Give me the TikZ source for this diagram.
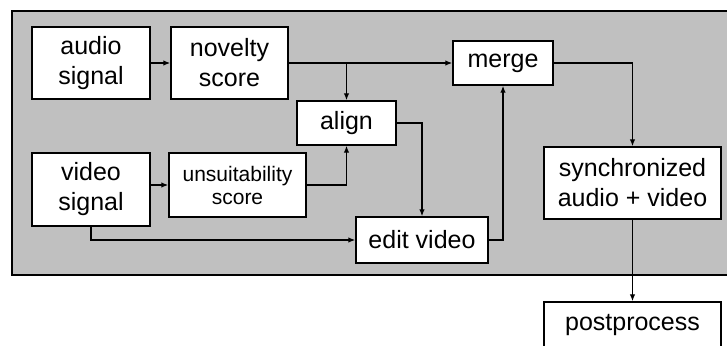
\documentclass[tikz,border=0pt]{standalone}
\usepackage{fontspec}
\setmainfont{Liberation Sans}
\usetikzlibrary{arrows.meta}
\definecolor{panelgray}{RGB}{192,192,192}
\tikzset{
  blk/.style={draw=black, line width=1.4pt, fill=white, inner sep=0pt, align=center,
    font=\fontsize{25}{30}\selectfont, text=black},
  conn/.style={draw=black, line width=1.3pt, -{Latex[length=7pt,width=5.5pt]}},
}
\begin{document}
\begin{tikzpicture}[x=1pt,y=-1pt]
\useasboundingbox (0,0) rectangle (727,345);
\draw[fill=panelgray, line width=1.3pt] (12,11) rectangle (740,275);
\node[blk, minimum width=118pt, minimum height=72pt] (audio) at (91,63) {audio\\signal};
\node[blk, minimum width=117pt, minimum height=72pt] (novelty) at (229.5,63) {novelty\\score};
\node[blk, minimum width=99pt, minimum height=44pt] (align) at (346.5,123) {align};
\node[blk, minimum width=100pt, minimum height=44pt] (merge) at (503,63) {merge};
\node[blk, minimum width=177pt, minimum height=72pt] (sync) at (632.5,183) {synchronized\\audio + video};
\node[blk, minimum width=118pt, minimum height=73pt] (video) at (91,189.5) {video\\signal};
\node[blk, minimum width=137pt, minimum height=64pt, font=\fontsize{21}{23}\selectfont] (unsuit) at (237.5,185) {unsuitability\\score};
\node[blk, minimum width=132pt, minimum height=46pt] (edit) at (422,240) {edit video};
\node[blk, minimum width=177pt, minimum height=46pt] (post) at (632.5,325) {postprocess};
\draw[conn] (audio.east) -- (novelty.west);
\draw[conn] (novelty.east) -- (merge.west);
\draw[conn] (novelty.east -| align.north) -- (align.north);
\draw[conn] (video.east |- unsuit.west) -- (unsuit.west);
\draw[conn] (unsuit.east) -| (align.south);
\draw[conn] (align.east) -| (edit.north);
\draw[conn] (video.south) |- (edit.west);
\draw[conn] (edit.east) -| (merge.south);
\draw[conn] (merge.east) -| (sync.north);
\draw[conn] (sync.south) -- (post.north);
\end{tikzpicture}
\end{document}
